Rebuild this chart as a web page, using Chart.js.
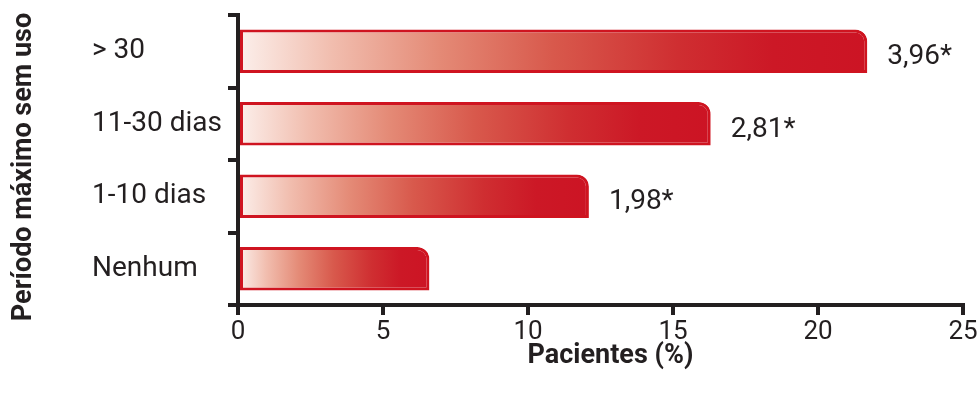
<!DOCTYPE html>
<html>
<head>
<meta charset="utf-8">
<script src="https://cdn.jsdelivr.net/npm/chart.js@4/dist/chart.umd.min.js"></script>
<style>
  html, body { margin: 0; padding: 0; background: #ffffff; }
  #wrap { width: 980px; height: 394px; position: relative; }
</style>
</head>
<body>
<div id="wrap"><canvas id="c"></canvas></div>
<script>
const categories = ['> 30', '11-30 dias', '1-10 dias', 'Nenhum'];
const patientPercent = [21.7, 16.3, 12.1, 6.6];
const valueLabels = ['3,96*', '2,81*', '1,98*', ''];
const xTicks = [0, 5, 10, 15, 20, 25];
const yTitle = 'Período máximo sem uso';
const xTitle = 'Pacientes (%)';

const INK = '#231F20';
const RED = '#CC1424';
const FONT = 'Roboto, "Liberation Sans", sans-serif';

function barGradient(ctx) {
  const chart = ctx.chart;
  if (!chart.chartArea || ctx.type !== 'data') return RED;
  const xs = chart.scales.x;
  const x0 = xs.getPixelForValue(0);
  const x1 = xs.getPixelForValue(ctx.raw);
  const g = chart.ctx.createLinearGradient(x0, 0, x1, 0);
  g.addColorStop(0, '#FCF0EC');
  g.addColorStop(0.15, '#F1BDAE');
  g.addColorStop(0.32, '#E48A76');
  g.addColorStop(0.5, '#D8594C');
  g.addColorStop(0.7, '#CF2E31');
  g.addColorStop(0.85, '#CC1826');
  g.addColorStop(1, RED);
  return g;
}

const valueLabelPlugin = {
  id: 'valueLabels',
  afterDatasetsDraw(chart) {
    const ctx = chart.ctx;
    const meta = chart.getDatasetMeta(0);
    ctx.save();
    ctx.font = '28px ' + FONT;
    ctx.fillStyle = INK;
    ctx.textAlign = 'left';
    ctx.textBaseline = 'middle';
    meta.data.forEach((el, i) => {
      if (valueLabels[i]) ctx.fillText(valueLabels[i], el.x + 20, el.y + 6);
    });
    ctx.restore();
  }
};

const axisTitlesPlugin = {
  id: 'axisTitles',
  afterDraw(chart) {
    const ctx = chart.ctx;
    const area = chart.chartArea;
    ctx.save();
    ctx.font = 'bold 27px ' + FONT;
    ctx.fillStyle = INK;
    ctx.textAlign = 'center';
    ctx.textBaseline = 'middle';
    // x-axis title
    ctx.fillText(xTitle, (area.left + area.right) / 2 + 10, area.bottom + 51);
    // y-axis title
    ctx.translate(24, (area.top + area.bottom) / 2 + 7);
    ctx.rotate(-Math.PI / 2);
    ctx.fillText(yTitle, 0, 0);
    ctx.restore();
  }
};

new Chart(document.getElementById('c'), {
  type: 'bar',
  data: {
    labels: categories,
    datasets: [{
      data: patientPercent,
      backgroundColor: barGradient,
      borderColor: '#CF1420',
      borderWidth: 3,
      borderSkipped: false,
      borderRadius: { topLeft: 0, topRight: 12, bottomLeft: 0, bottomRight: 0 },
      barPercentage: 0.6,
      categoryPercentage: 1.0
    }]
  },
  plugins: [valueLabelPlugin, axisTitlesPlugin],
  options: {
    indexAxis: 'y',
    responsive: true,
    maintainAspectRatio: false,
    animation: false,
    layout: { padding: { left: 92, top: 15, right: 17, bottom: 0 } },
    plugins: { legend: { display: false }, tooltip: { enabled: false } },
    scales: {
      x: {
        type: 'linear',
        min: 0,
        max: 25,
        afterBuildTicks(scale) { scale.ticks = xTicks.map(v => ({ value: v })); },
        afterFit(scale) { scale.height = 89; scale.paddingLeft = 0; scale.paddingRight = 0; },
        border: { display: true, color: INK, width: 4 },
        grid: { display: true, drawOnChartArea: false, drawTicks: true, tickLength: 10, color: INK, lineWidth: 4 },
        ticks: { color: INK, font: { family: FONT, size: 26 }, padding: 2, maxRotation: 0 }
      },
      y: {
        type: 'category',
        offset: true,
        afterFit(scale) { scale.width = 146; scale.paddingTop = 0; scale.paddingBottom = 0; },
        border: { display: true, color: INK, width: 4 },
        grid: { display: true, offset: true, drawOnChartArea: false, drawTicks: true, tickLength: 10, color: INK, lineWidth: 4 },
        ticks: { color: INK, font: { family: FONT, size: 28 }, crossAlign: 'far', padding: 4 }
      }
    }
  }
});
</script>
</body>
</html>
